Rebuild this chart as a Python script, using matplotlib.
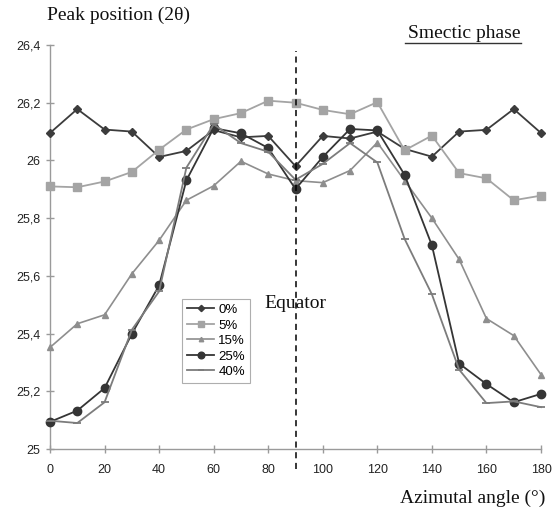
import matplotlib
matplotlib.use("Agg")
import matplotlib.pyplot as plt
from matplotlib.ticker import FuncFormatter

# Azimuthal angle (degrees) and peak position (2-theta) for each concentration
angles = [0, 10, 20, 30, 40, 50, 60, 70, 80, 90, 100, 110, 120, 130, 140, 150, 160, 170, 180]

p0 = [26.095, 26.178, 26.107, 26.100, 26.012, 26.033, 26.105, 26.080, 26.085, 25.980,
      26.085, 26.076, 26.100, 26.040, 26.013, 26.100, 26.106, 26.178, 26.095]
p5 = [25.910, 25.907, 25.927, 25.960, 26.037, 26.107, 26.143, 26.164, 26.207, 26.200,
      26.175, 26.160, 26.202, 26.035, 26.086, 25.956, 25.938, 25.862, 25.878]
p15 = [25.352, 25.434, 25.465, 25.607, 25.723, 25.862, 25.912, 25.997, 25.953, 25.930,
       25.923, 25.965, 26.062, 25.930, 25.800, 25.657, 25.452, 25.393, 25.258]
p25 = [25.094, 25.133, 25.211, 25.399, 25.567, 25.931, 26.112, 26.094, 26.043, 25.901,
       26.012, 26.109, 26.104, 25.950, 25.706, 25.296, 25.225, 25.162, 25.191]
p40 = [25.098, 25.090, 25.162, 25.413, 25.546, 25.975, 26.125, 26.060, 26.030, 25.933,
       25.988, 26.060, 25.993, 25.728, 25.536, 25.275, 25.159, 25.165, 25.145]

labels = ["0%", "5%", "15%", "25%", "40%"]
equator_angle = 90

x_ticks = [0, 20, 40, 60, 80, 100, 120, 140, 160, 180]
y_ticks = [25.0, 25.2, 25.4, 25.6, 25.8, 26.0, 26.2, 26.4]

sans = ["Liberation Sans", "DejaVu Sans"]
serif = ["Liberation Serif", "DejaVu Serif"]

fig = plt.figure(figsize=(5.54, 5.14), dpi=100)
ax = fig.add_axes([50 / 554, 65 / 514, 491 / 554, 404 / 514])

styles = [
    dict(color="#3c3c3c", marker="D", markersize=4, lw=1.3),
    dict(color="#a4a4a4", marker="s", markersize=5.5, lw=1.3),
    dict(color="#8e8e8e", marker="^", markersize=4, lw=1.2),
    dict(color="#353535", marker="o", markersize=6, lw=1.3),
    dict(color="#7c7c7c", marker="_", markersize=6, mew=1.3, lw=1.3),
]

for series, lab, st in zip([p0, p5, p15, p25, p40], labels, styles):
    ax.plot(angles, series, label=lab, clip_on=False, zorder=3, **st)

# Equator marker (dashed vertical line extending slightly past the axis)
ax.plot([equator_angle, equator_angle], [24.93, 26.38], color="black", lw=1.1,
        ls=(0, (4, 3)), clip_on=False, zorder=4)

ax.set_xlim(0, 180)
ax.set_ylim(25, 26.4)
ax.set_xticks(x_ticks)
ax.set_yticks(y_ticks)


def comma_fmt(v, pos):
    s = f"{v:.1f}".rstrip("0").rstrip(".")
    return s.replace(".", ",")


ax.yaxis.set_major_formatter(FuncFormatter(comma_fmt))

for s in ["top", "right"]:
    ax.spines[s].set_visible(False)
for s in ["left", "bottom"]:
    ax.spines[s].set_color("#9a9a9a")
    ax.spines[s].set_linewidth(1.0)

ax.tick_params(axis="both", direction="inout", length=6, width=1.0, color="#9a9a9a",
               labelsize=9, labelcolor="#222222")
ax.tick_params(axis="y", pad=4)
ax.tick_params(axis="x", pad=8)
for lbl in ax.get_xticklabels() + ax.get_yticklabels():
    lbl.set_family(sans)

leg = ax.legend(loc="upper left", bbox_to_anchor=(0.269, 0.371), borderaxespad=0,
                prop={"family": sans, "size": 9.5}, frameon=True, fancybox=False,
                labelspacing=0.25, handlelength=2.1, handletextpad=0.3, borderpad=0.35,
                markerscale=0.8)
leg.get_frame().set_edgecolor("#9a9a9a")
leg.get_frame().set_linewidth(0.8)

fig.text(47 / 554, 1 - 15 / 514, "Peak position (2θ)", family=serif, fontsize=14,
         ha="left", va="center", color="#111111")
fig.text(521 / 554, 1 - 33 / 514, "Smectic phase", family=serif, fontsize=14,
         ha="right", va="center", color="#111111")
fig.add_artist(plt.Line2D([405 / 554, 521 / 554], [1 - 43 / 514, 1 - 43 / 514],
                          transform=fig.transFigure, color="#333333", lw=1.0))
fig.text(264 / 554, 1 - 303 / 514, "Equator", family=serif, fontsize=14,
         ha="left", va="center", color="#111111")
fig.text(545 / 554, 1 - 498 / 514, "Azimutal angle (°)", family=serif, fontsize=14,
         ha="right", va="center", color="#111111")

fig.savefig("out.png", dpi=100)
